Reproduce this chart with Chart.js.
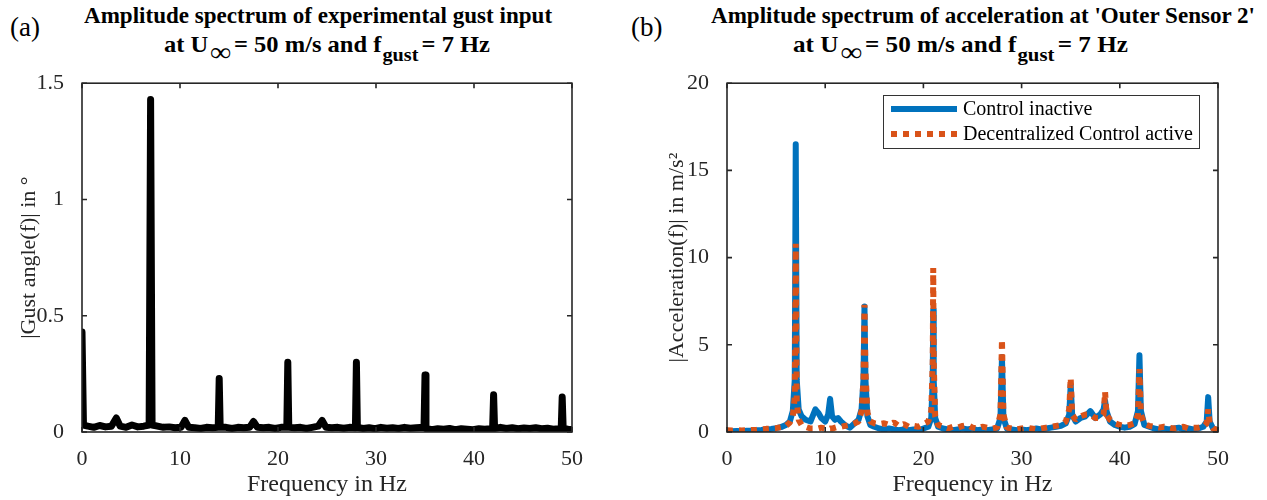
<!DOCTYPE html>
<html>
<head>
<meta charset="utf-8">
<script src="https://cdn.jsdelivr.net/npm/chart.js"></script>
<style>
  body { margin: 0; background: #fff; width: 1267px; height: 500px; position: relative; overflow: hidden; font-family: "Liberation Serif", serif; color: #000; }
  .wrap { position: absolute; }
  .ttl { position: absolute; font-weight: bold; font-size: 23px; line-height: 26px; white-space: nowrap; transform-origin: 0 0; }
  .ttl .inf { font-size: 27px; position: relative; top: 9px; margin: 0 3px 0 2px; }
  .ttl .gst { font-size: 19px; position: relative; top: 9px; margin: 0 3px 0 1px; }
  .lbl { position: absolute; font-size: 27px; }
</style>
</head>
<body>
<div class="lbl" style="left:10px;top:12px;">(a)</div>
<div class="lbl" style="left:631px;top:12px;">(b)</div>
<div class="ttl" id="t1a" style="left:84px;top:3px;">Amplitude spectrum of experimental gust input</div>
<div class="ttl" data-w="326" style="left:164px;top:30px;">at U<span class="inf">&infin;</span>= 50 m/s and f<span class="gst">gust</span>= 7 Hz</div>
<div class="ttl" id="t1b" data-w="544" style="left:711px;top:3px;">Amplitude spectrum of acceleration at 'Outer Sensor 2'</div>
<div class="ttl" data-w="335" style="left:793px;top:30px;">at U<span class="inf">&infin;</span>= 50 m/s and f<span class="gst">gust</span>= 7 Hz</div>
<div class="wrap" style="left:0;top:60px;width:620px;height:440px;"><canvas id="chartA" width="620" height="440"></canvas></div>
<div class="wrap" style="left:620px;top:60px;width:647px;height:440px;"><canvas id="chartB" width="647" height="440"></canvas></div>
<script>
// (a) gust input spectrum
let freqGust = [
  0, 0.15, 0.6, 1.2, 1.8, 2.4, 3.0, 3.5, 3.9, 4.5,
  5.1, 5.7, 6.3, 6.85, 7.0, 7.15, 7.7, 8.3, 8.9, 9.5,
  10.1, 10.5, 10.9, 11.5, 12.1, 12.7, 13.3, 13.9, 14.0, 14.1,
  14.7, 15.3, 15.9, 16.5, 17.1, 17.5, 17.9, 18.5, 19.1, 19.7,
  20.3, 20.9, 21.0, 21.1, 21.7, 22.3, 22.9, 23.5, 24.1, 24.5,
  24.9, 25.5, 26.1, 26.7, 27.3, 27.9, 28.0, 28.1, 28.7, 29.3,
  29.9, 30.5, 31.1, 31.7, 32.3, 32.9, 33.5, 34.1, 34.9, 35.0,
  35.1, 35.7, 36.3, 36.9, 37.5, 38.1, 38.7, 39.3, 39.9, 40.5,
  41.1, 41.9, 42.0, 42.1, 42.7, 43.3, 43.9, 44.5, 45.1, 45.7,
  46.3, 46.9, 47.5, 48.1, 48.9, 49.0, 49.1, 49.6, 50
];
let gustAmp = [
  0.43, 0.03, 0.025, 0.02, 0.028, 0.022, 0.025, 0.06, 0.025, 0.02,
  0.03, 0.022, 0.025, 0.03, 1.43, 0.03, 0.025, 0.02, 0.022, 0.018,
  0.02, 0.05, 0.02, 0.018, 0.015, 0.02, 0.018, 0.02, 0.23, 0.02,
  0.02, 0.015, 0.02, 0.018, 0.02, 0.045, 0.02, 0.018, 0.02, 0.015,
  0.02, 0.02, 0.30, 0.02, 0.018, 0.02, 0.015, 0.02, 0.025, 0.05,
  0.02, 0.018, 0.02, 0.016, 0.02, 0.018, 0.30, 0.02, 0.015, 0.018,
  0.014, 0.02, 0.016, 0.018, 0.015, 0.02, 0.016, 0.018, 0.02, 0.245,
  0.015, 0.01, 0.014, 0.012, 0.015, 0.01, 0.014, 0.012, 0.01, 0.014,
  0.012, 0.015, 0.16, 0.015, 0.02, 0.015, 0.018, 0.014, 0.017, 0.015,
  0.018, 0.014, 0.016, 0.012, 0.015, 0.15, 0.015, 0.012, 0.01
];

// (b) acceleration spectrum
let freqAcc = [
  0, 0.5, 1, 1.5, 2, 2.5, 3, 3.5, 4, 4.5,
  5, 5.5, 6, 6.4, 6.7, 6.9, 7.0, 7.1, 7.3, 7.6,
  8, 8.5, 9, 9.3, 9.6, 10, 10.3, 10.5, 10.7, 11,
  11.3, 11.6, 12, 12.5, 13, 13.4, 13.7, 13.9, 14.0, 14.1,
  14.3, 14.6, 15, 15.5, 16, 16.5, 17, 17.5, 18, 18.5,
  19, 19.5, 20, 20.5, 20.8, 20.95, 21.0, 21.05, 21.2, 21.5,
  22, 22.5, 23, 23.5, 24, 24.5, 25, 25.5, 26, 26.5,
  27, 27.5, 27.85, 28.0, 28.15, 28.5, 29, 29.5, 30, 30.5,
  31, 31.5, 32, 32.5, 33, 33.5, 34, 34.5, 34.85, 35.0,
  35.15, 35.5, 36, 36.5, 37, 37.5, 38, 38.35, 38.5, 38.65,
  39, 39.5, 40, 40.5, 41, 41.5, 41.85, 42.0, 42.15, 42.5,
  43, 43.5, 44, 44.5, 45, 45.5, 46, 46.5, 47, 47.5,
  48, 48.5, 48.85, 49.0, 49.15, 49.5, 50
];
let accInactive = [
  0.05, 0.04, 0.06, 0.05, 0.07, 0.08, 0.1, 0.12, 0.15, 0.18,
  0.22, 0.28, 0.4, 0.6, 1.2, 3.0, 16.5, 3.0, 1.3, 0.9,
  0.7, 0.6, 1.3, 1.1, 0.8, 0.6, 1.0, 1.9, 0.9, 0.7,
  0.8, 0.6, 0.4, 0.25, 0.5, 0.7, 1.3, 3.0, 7.2, 3.0,
  0.9, 0.4, 0.3, 0.2, 0.15, 0.2, 0.15, 0.1, 0.15, 0.1,
  0.15, 0.1, 0.2, 0.3, 0.8, 3.0, 7.0, 3.0, 0.8, 0.3,
  0.2, 0.15, 0.1, 0.15, 0.2, 0.15, 0.2, 0.1, 0.15, 0.1,
  0.15, 0.2, 0.8, 4.3, 0.8, 0.2, 0.15, 0.1, 0.15, 0.1,
  0.15, 0.2, 0.15, 0.2, 0.25, 0.3, 0.35, 0.5, 1.0, 2.7,
  1.0, 0.6, 0.8, 0.9, 1.2, 0.8, 1.0, 1.3, 1.8, 1.2,
  0.6, 0.4, 0.3, 0.25, 0.3, 0.45, 1.2, 4.4, 1.2, 0.4,
  0.3, 0.2, 0.15, 0.2, 0.15, 0.2, 0.25, 0.15, 0.2, 0.15,
  0.2, 0.3, 0.6, 2.0, 0.6, 0.2, 0.1
];
let accActive = [
  0.1, 0.08, 0.1, 0.09, 0.1, 0.12, 0.12, 0.15, 0.18, 0.2,
  0.22, 0.28, 0.35, 0.55, 0.9, 2.0, 10.8, 1.8, 0.7, 0.4,
  0.3, 0.2, 0.2, 0.2, 0.25, 0.2, 0.15, 0.2, 0.2, 0.25,
  0.3, 0.3, 0.35, 0.4, 0.5, 0.6, 1.2, 3.0, 7.3, 3.5,
  1.1, 0.6, 0.5, 0.45, 0.5, 0.4, 0.55, 0.35, 0.45, 0.3,
  0.35, 0.3, 0.45, 0.6, 1.2, 4.0, 9.4, 4.0, 0.9, 0.4,
  0.3, 0.2, 0.3, 0.25, 0.35, 0.4, 0.25, 0.2, 0.3, 0.25,
  0.2, 0.25, 1.0, 5.3, 1.0, 0.25, 0.2, 0.15, 0.2, 0.25,
  0.2, 0.15, 0.2, 0.25, 0.3, 0.35, 0.4, 0.6, 1.3, 3.1,
  1.0, 0.7, 0.9, 1.0, 1.0, 0.8, 0.8, 1.0, 2.3, 1.0,
  0.7, 0.5, 0.4, 0.35, 0.4, 0.5, 1.0, 3.6, 1.0, 0.45,
  0.35, 0.3, 0.25, 0.3, 0.25, 0.2, 0.25, 0.3, 0.2, 0.25,
  0.25, 0.3, 0.5, 1.3, 0.5, 0.2, 0.1
];
let seriesNames = ['Control inactive', 'Decentralized Control active'];
let xTicks = [0, 10, 20, 30, 40, 50];

const axisColor = '#262626';
const blue = '#0072BD';
const orange = '#D95319';

// fit title lines to their width in the figure; line 1 of (a) uses the same squeeze as (b)
document.querySelectorAll('.ttl[data-w]').forEach(el => {
    const w = el.getBoundingClientRect().width;
    el.style.transform = 'scaleX(' + (Number(el.dataset.w) / w) + ')';
});
document.getElementById('t1a').style.transform = document.getElementById('t1b').style.transform;

function pts(xs, ys) {
    return xs.map((x, i) => ({x: x, y: ys[i]}));
}

// box round the plot and inward ticks on all four sides, like matlab
const boxPlugin = {
    id: 'box',
    afterDraw(chart) {
        const c = chart.ctx, a = chart.chartArea;
        const sx = chart.scales.x, sy = chart.scales.y;
        c.save();
        c.strokeStyle = axisColor;
        c.lineWidth = 1.6;
        c.strokeRect(a.left, a.top, a.right - a.left, a.bottom - a.top);
        c.beginPath();
        sx.ticks.forEach(t => {
            const px = sx.getPixelForValue(t.value);
            c.moveTo(px, a.bottom); c.lineTo(px, a.bottom - 5);
            c.moveTo(px, a.top); c.lineTo(px, a.top + 5);
        });
        sy.ticks.forEach(t => {
            const py = sy.getPixelForValue(t.value);
            c.moveTo(a.left, py); c.lineTo(a.left + 5, py);
            c.moveTo(a.right, py); c.lineTo(a.right - 5, py);
        });
        c.stroke();
        c.restore();
    }
};

// legend in a box, top right of plot (b)
const legendPlugin = {
    id: 'boxLegend',
    afterDraw(chart) {
        if (chart.canvas.id !== 'chartB') return;
        const c = chart.ctx;
        const bx = 263, by = 35, bw = 316, bh = 53;
        c.save();
        c.fillStyle = '#fff';
        c.fillRect(bx, by, bw, bh);
        c.strokeStyle = '#333';
        c.lineWidth = 1;
        c.strokeRect(bx + 0.5, by + 0.5, bw, bh);
        c.font = '20px "Liberation Serif"';
        c.textBaseline = 'middle';
        c.fillStyle = '#000';
        const rows = [by + 14, by + 39];
        chart.data.datasets.forEach((ds, i) => {
            c.beginPath();
            c.strokeStyle = ds.borderColor;
            c.lineWidth = 6;
            c.setLineDash(ds.borderDash || []);
            c.lineCap = 'butt';
            c.moveTo(bx + 8, rows[i]);
            c.lineTo(bx + 74, rows[i]);
            c.stroke();
            c.setLineDash([]);
            c.fillText(ds.label, bx + 80, rows[i] + 1);
        });
        c.restore();
    }
};

function scaleOpts(ymax, ystep, yTitle, yWidth, yTitlePad) {
    return {
        x: {
            type: 'linear', min: 0, max: 50,
            afterBuildTicks: s => { s.ticks = xTicks.map(v => ({value: v})); },
            afterFit: s => { s.height = 68; },
            grid: {display: false}, border: {display: false},
            ticks: {color: axisColor, padding: 6, font: {family: 'Liberation Serif', size: 22}},
            title: {display: true, text: 'Frequency in Hz', color: axisColor, padding: {top: 0, bottom: 1},
                    font: {family: 'Liberation Serif', size: 24}}
        },
        y: {
            min: 0, max: ymax,
            ticks: {stepSize: ystep, color: axisColor, padding: 10, callback: v => String(v),
                    font: {family: 'Liberation Serif', size: 22}},
            afterFit: s => { s.width = yWidth; },
            grid: {display: false}, border: {display: false},
            title: {display: true, text: yTitle, color: axisColor, padding: {top: yTitlePad, bottom: 0},
                    font: {family: 'Liberation Serif', size: 22}}
        }
    };
}

var chartA = new Chart(document.getElementById('chartA').getContext('2d'), {
    type: 'line',
    data: {
        datasets: [{
            label: 'Gust angle',
            data: pts(freqGust, gustAmp),
            borderColor: '#000',
            borderWidth: 7,
            borderCapStyle: 'round',
            borderJoinStyle: 'round',
            pointRadius: 0,
            tension: 0
        }]
    },
    options: {
        responsive: false,
        animation: false,
        layout: {padding: {left: 0, top: 17, right: 48, bottom: 0}},
        plugins: {legend: {display: false}, tooltip: {enabled: false}},
        scales: scaleOpts(1.5, 0.5, '|Gust angle(f)| in \u00b0', 82, 16)
    },
    plugins: [boxPlugin]
});

var chartB = new Chart(document.getElementById('chartB').getContext('2d'), {
    type: 'line',
    data: {
        datasets: [{
            label: seriesNames[0],
            data: pts(freqAcc, accInactive),
            borderColor: blue,
            borderWidth: 6,
            borderCapStyle: 'round',
            borderJoinStyle: 'round',
            pointRadius: 0,
            tension: 0,
            order: 2
        }, {
            label: seriesNames[1],
            data: pts(freqAcc, accActive),
            borderColor: orange,
            borderWidth: 6,
            borderDash: [6, 6],
            borderCapStyle: 'butt',
            borderJoinStyle: 'bevel',
            pointRadius: 0,
            tension: 0,
            order: 1
        }]
    },
    options: {
        responsive: false,
        animation: false,
        layout: {padding: {left: 0, top: 17, right: 49, bottom: 0}},
        plugins: {legend: {display: false}, tooltip: {enabled: false}},
        scales: scaleOpts(20, 5, '|Acceleration(f)| in m/s\u00b2', 107, 44)
    },
    plugins: [boxPlugin, legendPlugin]
});
</script>
</body>
</html>
